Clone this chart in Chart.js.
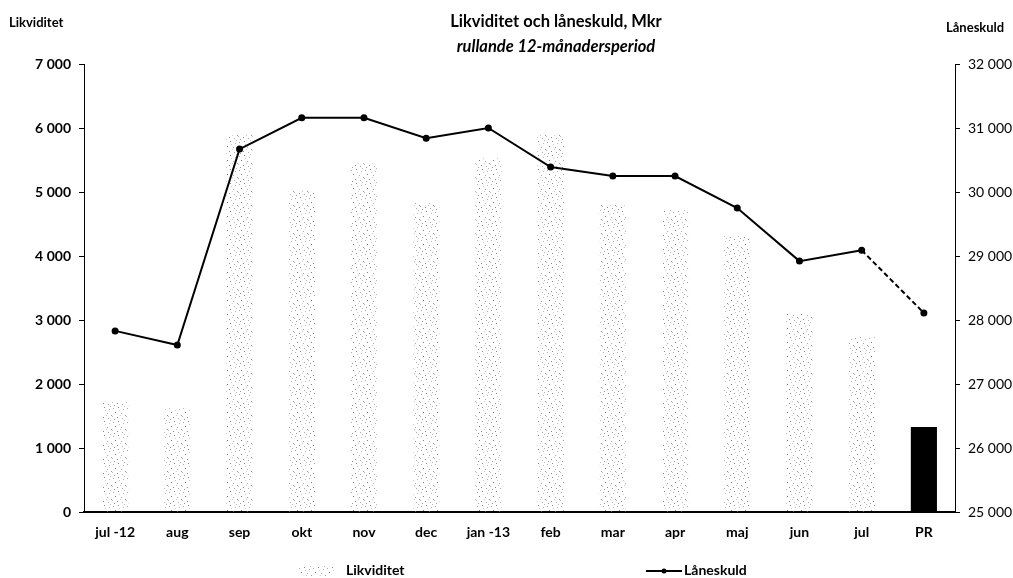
<!DOCTYPE html>
<html>
<head>
<meta charset="utf-8">
<script src="https://cdn.jsdelivr.net/npm/chart.js@4/dist/chart.umd.min.js"></script>
<style>
body { margin: 0; background: #fff; font-family: Lato, "Open Sans", sans-serif; }
#wrap { position: relative; width: 1013px; height: 578px; }
.txt { position: absolute; color: #000; white-space: nowrap; }
</style>
</head>
<body>
<div id="wrap">
  <canvas id="grafico" width="1013" height="578"></canvas>
  <div class="txt" style="left:0;width:1112px;top:11px;text-align:center;font-weight:bold;font-size:16.5px;">Likviditet och låneskuld, Mkr</div>
  <div class="txt" style="left:0;width:1112px;top:36px;text-align:center;font-style:italic;font-weight:bold;font-size:16.5px;">rullande 12-månadersperiod</div>
  <div class="txt" style="left:9px;top:14px;font-weight:bold;font-size:13px;">Likviditet</div>
  <div class="txt" style="left:946px;top:19px;font-weight:bold;font-size:13px;">Låneskuld</div>
  <canvas id="legSwatch" width="36" height="10" style="position:absolute;left:298px;top:566px;"></canvas>
  <div class="txt" style="left:346px;top:561px;font-weight:bold;font-size:14px;">Likviditet</div>
  <canvas id="legLine" width="36" height="10" style="position:absolute;left:646px;top:566px;"></canvas>
  <div class="txt" style="left:684px;top:561px;font-weight:bold;font-size:14px;">Låneskuld</div>
</div>
<script>
// data
const kategorier = ['jul -12', 'aug', 'sep', 'okt', 'nov', 'dec', 'jan -13', 'feb', 'mar', 'apr', 'maj', 'jun', 'jul', 'PR'];
const likviditet = [1720, 1620, 5890, 5030, 5450, 4830, 5530, 5890, 4800, 4720, 4310, 3110, 2730, 1330];
const laneskuld = [27830, 27610, 30670, 31160, 31160, 30840, 31000, 30390, 30250, 30250, 29750, 28920, 29090, 28110];
const ticksVanster = [0, 1000, 2000, 3000, 4000, 5000, 6000, 7000];
const ticksHoger = [25000, 26000, 27000, 28000, 29000, 30000, 31000, 32000];

function formatTal(v) {
    return String(v).replace(/\B(?=(\d{3})+(?!\d))/g, ' ');
}

// prickigt monster for staplarna
function skapaMonster() {
    let c = document.createElement('canvas');
    c.width = 14; c.height = 14;
    let g = c.getContext('2d');
    const prickar = [[1,2,'#aaa'],[6,1,'#888'],[11,3,'#bbb'],[3,6,'#777'],[9,7,'#aaa'],[13,9,'#999'],[0,10,'#bbb'],[5,11,'#888'],[10,12,'#aaa'],[7,4,'#ccc'],[12,0,'#bbb'],[2,13,'#999'],[8,9,'#ccc']];
    prickar.forEach(function (p) {
        g.fillStyle = p[2];
        g.fillRect(p[0], p[1], 1, 1);
    });
    return g.createPattern(c, 'repeat');
}

const monster = skapaMonster();
const stapelFarger = likviditet.map(function (v, i) {
    return i === likviditet.length - 1 ? '#000' : monster;
});

// legend-symboler
(function () {
    let s = document.getElementById('legSwatch').getContext('2d');
    s.fillStyle = monster;
    s.fillRect(0, 0, 36, 10);
    let l = document.getElementById('legLine').getContext('2d');
    l.strokeStyle = '#000'; l.lineWidth = 2;
    l.beginPath(); l.moveTo(0, 5); l.lineTo(36, 5); l.stroke();
    l.beginPath(); l.arc(18, 5, 2.5, 0, Math.PI * 2); l.fillStyle = '#000'; l.fill();
})();

const ctx = document.getElementById('grafico').getContext('2d');
new Chart(ctx, {
    data: {
        labels: kategorier,
        datasets: [{
            type: 'line',
            label: 'Låneskuld',
            data: laneskuld,
            yAxisID: 'y2',
            borderColor: '#000',
            backgroundColor: '#000',
            borderWidth: 2,
            pointRadius: 2.5,
            pointHoverRadius: 2.5,
            tension: 0,
            segment: {
                borderDash: function (c) { return c.p0DataIndex === laneskuld.length - 2 ? [5, 3] : undefined; }
            },
            order: 0
        }, {
            type: 'bar',
            label: 'Likviditet',
            data: likviditet,
            yAxisID: 'y',
            backgroundColor: stapelFarger,
            borderWidth: 0,
            categoryPercentage: 0.42,
            barPercentage: 1,
            order: 1
        }]
    },
    options: {
        responsive: false,
        animation: false,
        layout: { padding: { top: 64, left: 0, right: 0, bottom: 0 } },
        plugins: {
            legend: { display: false },
            tooltip: { enabled: false }
        },
        scales: {
            x: {
                grid: { display: false, drawTicks: false },
                border: { color: '#000', width: 2 },
                ticks: { color: '#000', padding: 12, font: { family: 'Lato', size: 14, weight: 'bold' } },
                afterFit: function (s) { s.height = 66; }
            },
            y: {
                position: 'left',
                min: 0, max: 7000,
                afterBuildTicks: function (s) { s.ticks = ticksVanster.map(function (v) { return { value: v }; }); },
                grid: { display: true, drawOnChartArea: false, tickLength: 5, color: '#000' },
                border: { color: '#000', width: 1 },
                ticks: { color: '#000', padding: 8, font: { family: 'Lato', size: 14, weight: 'bold' }, callback: function (v) { return formatTal(v); } },
                afterFit: function (s) { s.width = 84; }
            },
            y2: {
                position: 'right',
                min: 25000, max: 32000,
                afterBuildTicks: function (s) { s.ticks = ticksHoger.map(function (v) { return { value: v }; }); },
                grid: { display: true, drawOnChartArea: false, tickLength: 5, color: '#000' },
                border: { color: '#000', width: 1 },
                ticks: { color: '#000', padding: 8, font: { family: 'Lato', size: 14 }, callback: function (v) { return formatTal(v); } },
                afterFit: function (s) { s.width = 58; }
            }
        }
    }
});
</script>
</body>
</html>
